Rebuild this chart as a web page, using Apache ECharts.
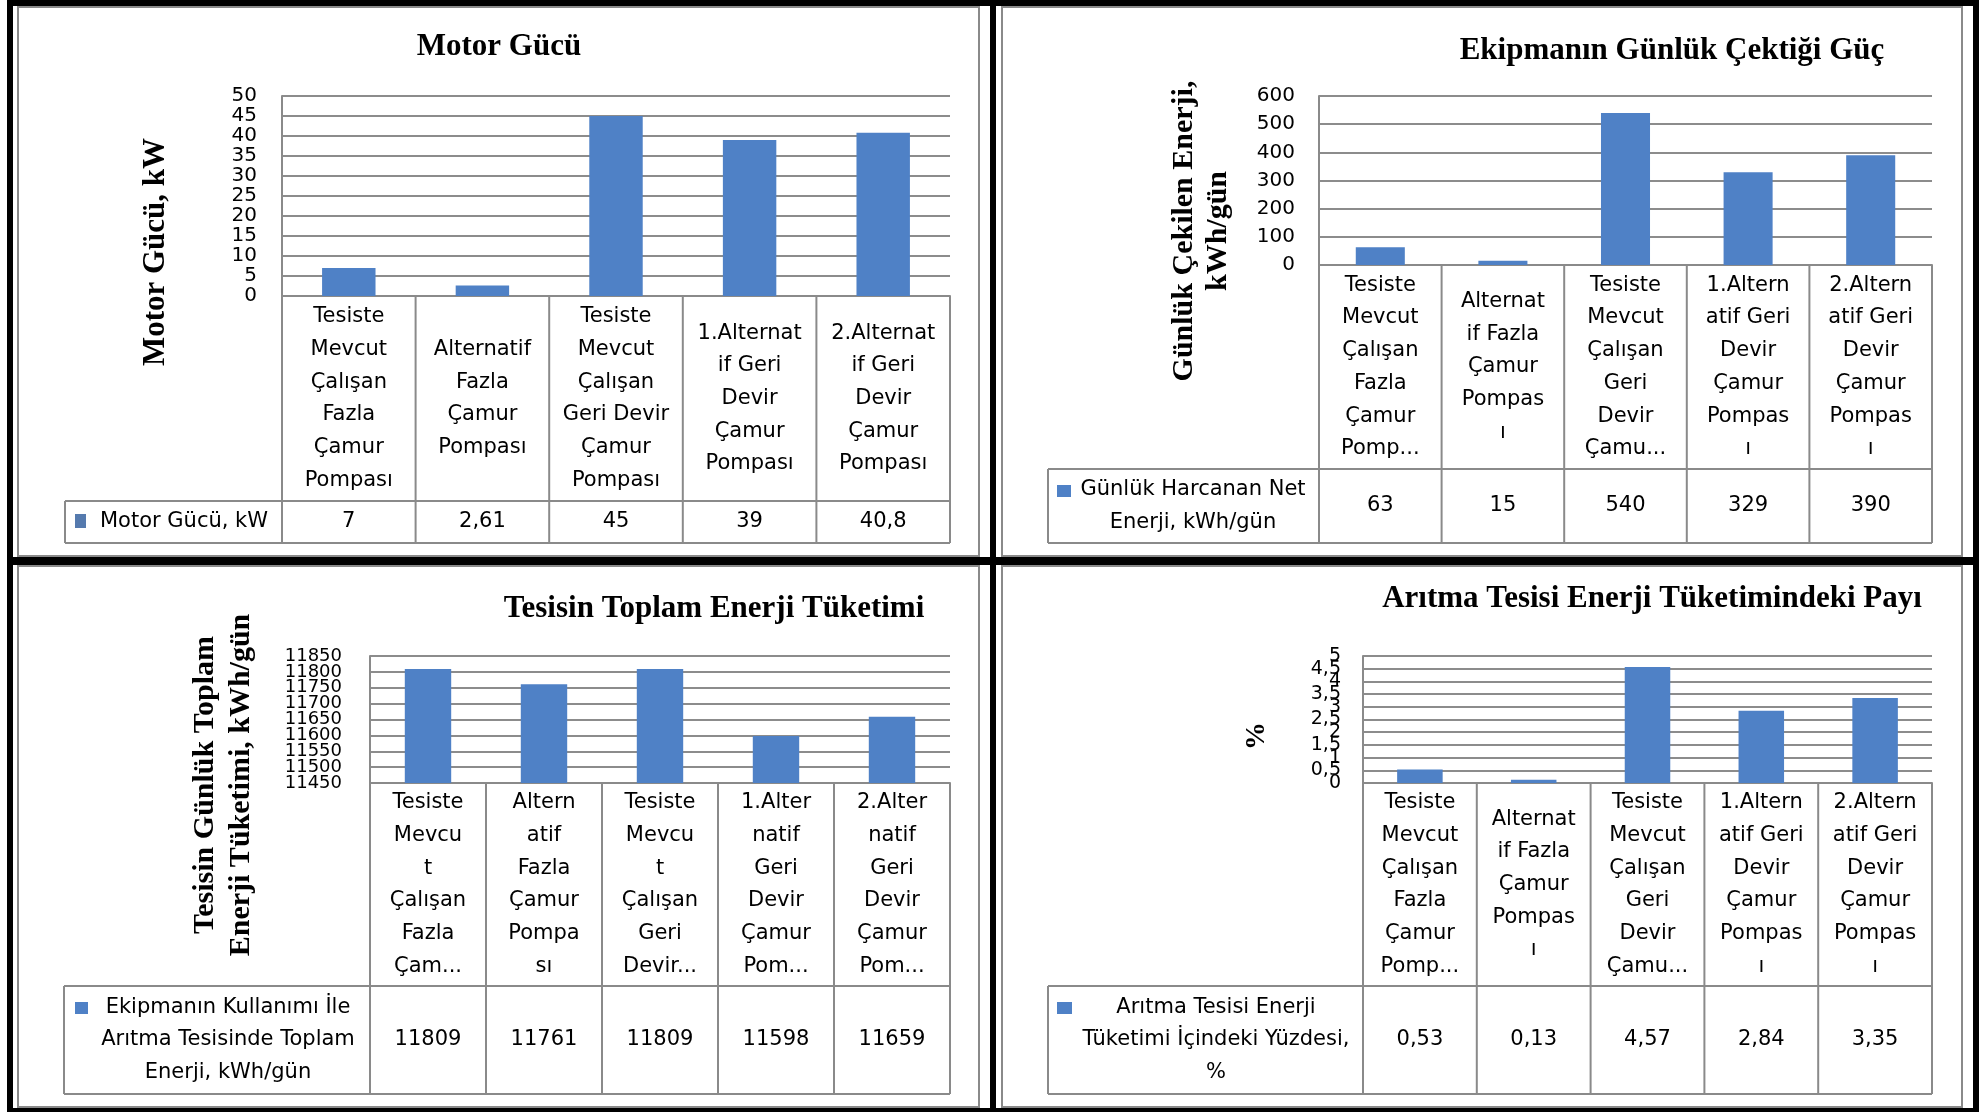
<!DOCTYPE html>
<html>
<head>
<meta charset="utf-8">
<script src="https://cdn.jsdelivr.net/npm/echarts@6/dist/echarts.min.js"></script>
<style>
  html, body { margin: 0; padding: 0; background: #ffffff; }
  #chart { width: 1988px; height: 1112px; }
</style>
</head>
<body>
<div id="chart"></div>
<script>
// ---- Data -------------------------------------------------------------

// Pump scenarios compared in every panel
const categoryNames = [
  'Tesiste Mevcut Çalışan Fazla Çamur Pompası',
  'Alternatif Fazla Çamur Pompası',
  'Tesiste Mevcut Çalışan Geri Devir Çamur Pompası',
  '1.Alternatif Geri Devir Çamur Pompası',
  '2.Alternatif Geri Devir Çamur Pompası'
];

// Category tick labels as wrapped inside each data table
const motorTickLabels = [
  'Tesiste\nMevcut\nÇalışan\nFazla\nÇamur\nPompası',
  'Alternatif\nFazla\nÇamur\nPompası',
  'Tesiste\nMevcut\nÇalışan\nGeri Devir\nÇamur\nPompası',
  '1.Alternat\nif Geri\nDevir\nÇamur\nPompası',
  '2.Alternat\nif Geri\nDevir\nÇamur\nPompası'
];
const dailyTickLabels = [
  'Tesiste\nMevcut\nÇalışan\nFazla\nÇamur\nPomp...',
  'Alternat\nif Fazla\nÇamur\nPompas\nı',
  'Tesiste\nMevcut\nÇalışan\nGeri\nDevir\nÇamu...',
  '1.Altern\natif Geri\nDevir\nÇamur\nPompas\nı',
  '2.Altern\natif Geri\nDevir\nÇamur\nPompas\nı'
];
const totalTickLabels = [
  'Tesiste\nMevcu\nt\nÇalışan\nFazla\nÇam...',
  'Altern\natif\nFazla\nÇamur\nPompa\nsı',
  'Tesiste\nMevcu\nt\nÇalışan\nGeri\nDevir...',
  '1.Alter\nnatif\nGeri\nDevir\nÇamur\nPom...',
  '2.Alter\nnatif\nGeri\nDevir\nÇamur\nPom...'
];
const shareTickLabels = [
  'Tesiste\nMevcut\nÇalışan\nFazla\nÇamur\nPomp...',
  'Alternat\nif Fazla\nÇamur\nPompas\nı',
  'Tesiste\nMevcut\nÇalışan\nGeri\nDevir\nÇamu...',
  '1.Altern\natif Geri\nDevir\nÇamur\nPompas\nı',
  '2.Altern\natif Geri\nDevir\nÇamur\nPompas\nı'
];

// Series values
const motorPower  = [7, 2.61, 45, 39, 40.8];               // kW
const dailyEnergy = [63, 15, 540, 329, 390];               // kWh/gün
const plantTotal  = [11809, 11761, 11809, 11598, 11659];   // kWh/gün
const plantShare  = [0.53, 0.13, 4.57, 2.84, 3.35];        // %

// Series names (as written in the table header cells)
const motorSeriesName = 'Motor Gücü, kW';
const dailySeriesName = 'Günlük Harcanan Net\nEnerji, kWh/gün';
const totalSeriesName = 'Ekipmanın Kullanımı İle\nArıtma Tesisinde Toplam\nEnerji, kWh/gün';
const shareSeriesName = 'Arıtma Tesisi Enerji\nTüketimi İçindeki Yüzdesi,\n%';

// Value-axis ranges [min, max, step]
const motorAxis = [0, 50, 5];
const dailyAxis = [0, 600, 100];
const totalAxis = [11450, 11850, 50];
const shareAxis = [0, 5, 0.5];

// ---- Styling / layout ---------------------------------------------------

const SANS  = "'DejaVu Sans', 'Noto Sans', sans-serif";
const SERIF = "'Liberation Serif', 'Times New Roman', serif";
const BAR   = '#4F81C6';
const GRID  = '#8c8c8c';
const LINE  = '#8a8a8a';

// Decimal comma, as used in Turkish
const fmt = v => String(+(+v).toFixed(3)).replace('.', ',');

const panels = [
  {
    title: 'Motor Gücü', titleX: 499, titleY: 47,
    yName: 'Motor Gücü, kW', yNameX: 156, yNameY: 252, yNameSize: 31, yNameLH: 34,
    L: 282, R: 950, T: 96, B: 296, VR: 501, TB: 543, tableL: 65,
    axis: motorAxis, yFont: 20, yLineH: 16, yMargin: 25,
    labels: motorTickLabels, values: motorPower, seriesName: motorSeriesName,
    headX: 184, headY: 522, key: [75, 514, 11, 14], keyColor: '#557AAE'
  },
  {
    title: 'Ekipmanın Günlük Çektiği Güç', titleX: 1672, titleY: 51,
    yName: 'Günlük Çekilen Enerji,\nkWh/gün', yNameX: 1201, yNameY: 231, yNameSize: 30, yNameLH: 34,
    L: 1319, R: 1932, T: 96, B: 265, VR: 469, TB: 543, tableL: 1048,
    axis: dailyAxis, yFont: 20, yLineH: 20, yMargin: 24,
    labels: dailyTickLabels, values: dailyEnergy, seriesName: dailySeriesName,
    headX: 1193, headY: 506, key: [1057, 485, 14, 12], keyColor: BAR
  },
  {
    title: 'Tesisin Toplam Enerji Tüketimi', titleX: 714, titleY: 609,
    yName: 'Tesisin Günlük Toplam\nEnerji Tüketimi, kWh/gün', yNameX: 223, yNameY: 785, yNameSize: 30, yNameLH: 36,
    L: 370, R: 950, T: 656, B: 783, VR: 986, TB: 1094, tableL: 64,
    axis: totalAxis, yFont: 18, yLineH: 12, yMargin: 28,
    labels: totalTickLabels, values: plantTotal, seriesName: totalSeriesName,
    headX: 228, headY: 1040, key: [75, 1002, 13, 12], keyColor: BAR
  },
  {
    title: 'Arıtma Tesisi Enerji Tüketimindeki Payı', titleX: 1652, titleY: 599,
    yName: '%', yNameX: 1257, yNameY: 736, yNameSize: 28, yNameLH: 30,
    L: 1363, R: 1932, T: 656, B: 783, VR: 986, TB: 1094, tableL: 1048,
    axis: shareAxis, yFont: 19, yLineH: 9, yMargin: 22,
    labels: shareTickLabels, values: plantShare, seriesName: shareSeriesName,
    headX: 1216, headY: 1040, key: [1057, 1002, 15, 12], keyColor: BAR
  }
];

// ---- Build option -------------------------------------------------------

const grids = [], xAxes = [], yAxes = [], series = [], elements = [];

// page frame: black rules and grey panel borders
const black = (x, y, w, h) => ({ type: 'rect', shape: { x, y, width: w, height: h }, style: { fill: '#000' }, silent: true });
elements.push(
  black(7, 0, 1972, 6), black(7, 0, 6, 1112), black(1973, 0, 6, 1112),
  black(7, 1108, 1972, 4), black(990, 0, 6, 1112), black(7, 557, 1972, 8)
);
[[18, 7, 961, 549], [1002, 7, 960, 549], [18, 566, 961, 541], [1002, 566, 960, 541]].forEach(r => {
  elements.push({ type: 'rect', shape: { x: r[0], y: r[1], width: r[2], height: r[3] },
    style: { fill: null, stroke: '#8a8a8a', lineWidth: 2 }, silent: true });
});

const hline = (x1, x2, y) => ({ type: 'line', shape: { x1, y1: y, x2, y2: y }, style: { stroke: LINE, lineWidth: 2 }, silent: true });
const vline = (x, y1, y2) => ({ type: 'line', shape: { x1: x, y1, x2: x, y2 }, style: { stroke: LINE, lineWidth: 2 }, silent: true });

panels.forEach((p, i) => {
  grids.push({ left: p.L, top: p.T, width: p.R - p.L, height: p.B - p.T, containLabel: false, outerBoundsMode: 'none' });

  // category row of the data table
  xAxes.push({
    gridIndex: i, type: 'category', data: p.labels, position: 'bottom',
    axisLine: { show: true, lineStyle: { color: LINE, width: 2 } },
    axisTick: { show: false }, splitLine: { show: false },
    axisLabel: {
      interval: 0, margin: (p.VR - p.B) / 2, verticalAlign: 'middle', align: 'center',
      fontFamily: SANS, fontSize: 21, lineHeight: 32.7, color: '#000'
    }
  });
  // value row of the data table
  xAxes.push({
    gridIndex: i, type: 'category', data: p.labels, position: 'bottom', offset: p.VR - p.B,
    axisLine: { show: false }, axisTick: { show: false }, splitLine: { show: false },
    axisLabel: {
      interval: 0, margin: (p.TB - p.VR) / 2, verticalAlign: 'middle', align: 'center',
      fontFamily: SANS, fontSize: 21, color: '#000',
      formatter: (v, idx) => fmt(p.values[idx])
    }
  });

  const yLabel = {
    margin: p.yMargin, fontFamily: SANS, fontSize: p.yFont, lineHeight: p.yLineH, color: '#000',
    hideOverlap: false, formatter: v => fmt(v)
  };
  // main value axis: gridlines and the inner tick labels
  yAxes.push({
    gridIndex: i, type: 'value', position: 'left', min: p.axis[0], max: p.axis[1], interval: p.axis[2],
    axisLine: { show: true, lineStyle: { color: LINE, width: 2 } },
    axisTick: { show: false },
    splitLine: { show: true, lineStyle: { color: GRID, width: 2 } },
    axisLabel: Object.assign({}, yLabel, { showMinLabel: false, showMaxLabel: false })
  });
  // companion axis on the same scale carrying only the end labels (min / max),
  // so crowded labels never knock the end values out
  yAxes.push({
    gridIndex: i, type: 'value', position: 'left', min: p.axis[0], max: p.axis[1], interval: p.axis[1] - p.axis[0],
    axisLine: { show: false }, axisTick: { show: false }, splitLine: { show: false },
    axisLabel: Object.assign({}, yLabel, { showMinLabel: true, showMaxLabel: true })
  });

  series.push({
    type: 'bar', name: p.seriesName.replace(/\n/g, ' '),
    xAxisIndex: 2 * i, yAxisIndex: 2 * i,
    data: p.values, barCategoryGap: '60%', clip: true,
    itemStyle: { color: BAR }
  });

  // table borders
  const colW = (p.R - p.L) / p.values.length;
  for (let c = 0; c <= p.values.length; c++) elements.push(vline(p.L + c * colW, p.B, p.TB));
  elements.push(hline(p.tableL, p.R, p.VR), hline(p.tableL, p.R, p.TB), vline(p.tableL, p.VR, p.TB));

  // legend key and series name in the header cell
  elements.push({ type: 'rect', shape: { x: p.key[0], y: p.key[1], width: p.key[2], height: p.key[3] },
    style: { fill: p.keyColor }, silent: true });
  elements.push({ type: 'text', x: p.headX, y: p.headY, silent: true,
    style: { text: p.seriesName, align: 'center', verticalAlign: 'middle',
      fontFamily: SANS, fontSize: 21, lineHeight: 32.5, fill: '#000' } });

  // chart title
  elements.push({ type: 'text', x: p.titleX, y: p.titleY, silent: true,
    style: { text: p.title, align: 'center', verticalAlign: 'middle',
      fontFamily: SERIF, fontWeight: 'bold', fontSize: 31, fill: '#000' } });

  // value-axis title, reading bottom to top
  elements.push({ type: 'text', x: p.yNameX, y: p.yNameY, rotation: Math.PI / 2, silent: true,
    style: { text: p.yName, align: 'center', verticalAlign: 'middle',
      fontFamily: SERIF, fontWeight: 'bold', fontSize: p.yNameSize, lineHeight: p.yNameLH, fill: '#000' } });
});

const chart = echarts.init(document.getElementById('chart'), null, { renderer: 'canvas' });
chart.setOption({
  animation: false,
  backgroundColor: '#ffffff',
  grid: grids,
  xAxis: xAxes,
  yAxis: yAxes,
  series: series,
  graphic: { elements: elements }
});
</script>
</body>
</html>
